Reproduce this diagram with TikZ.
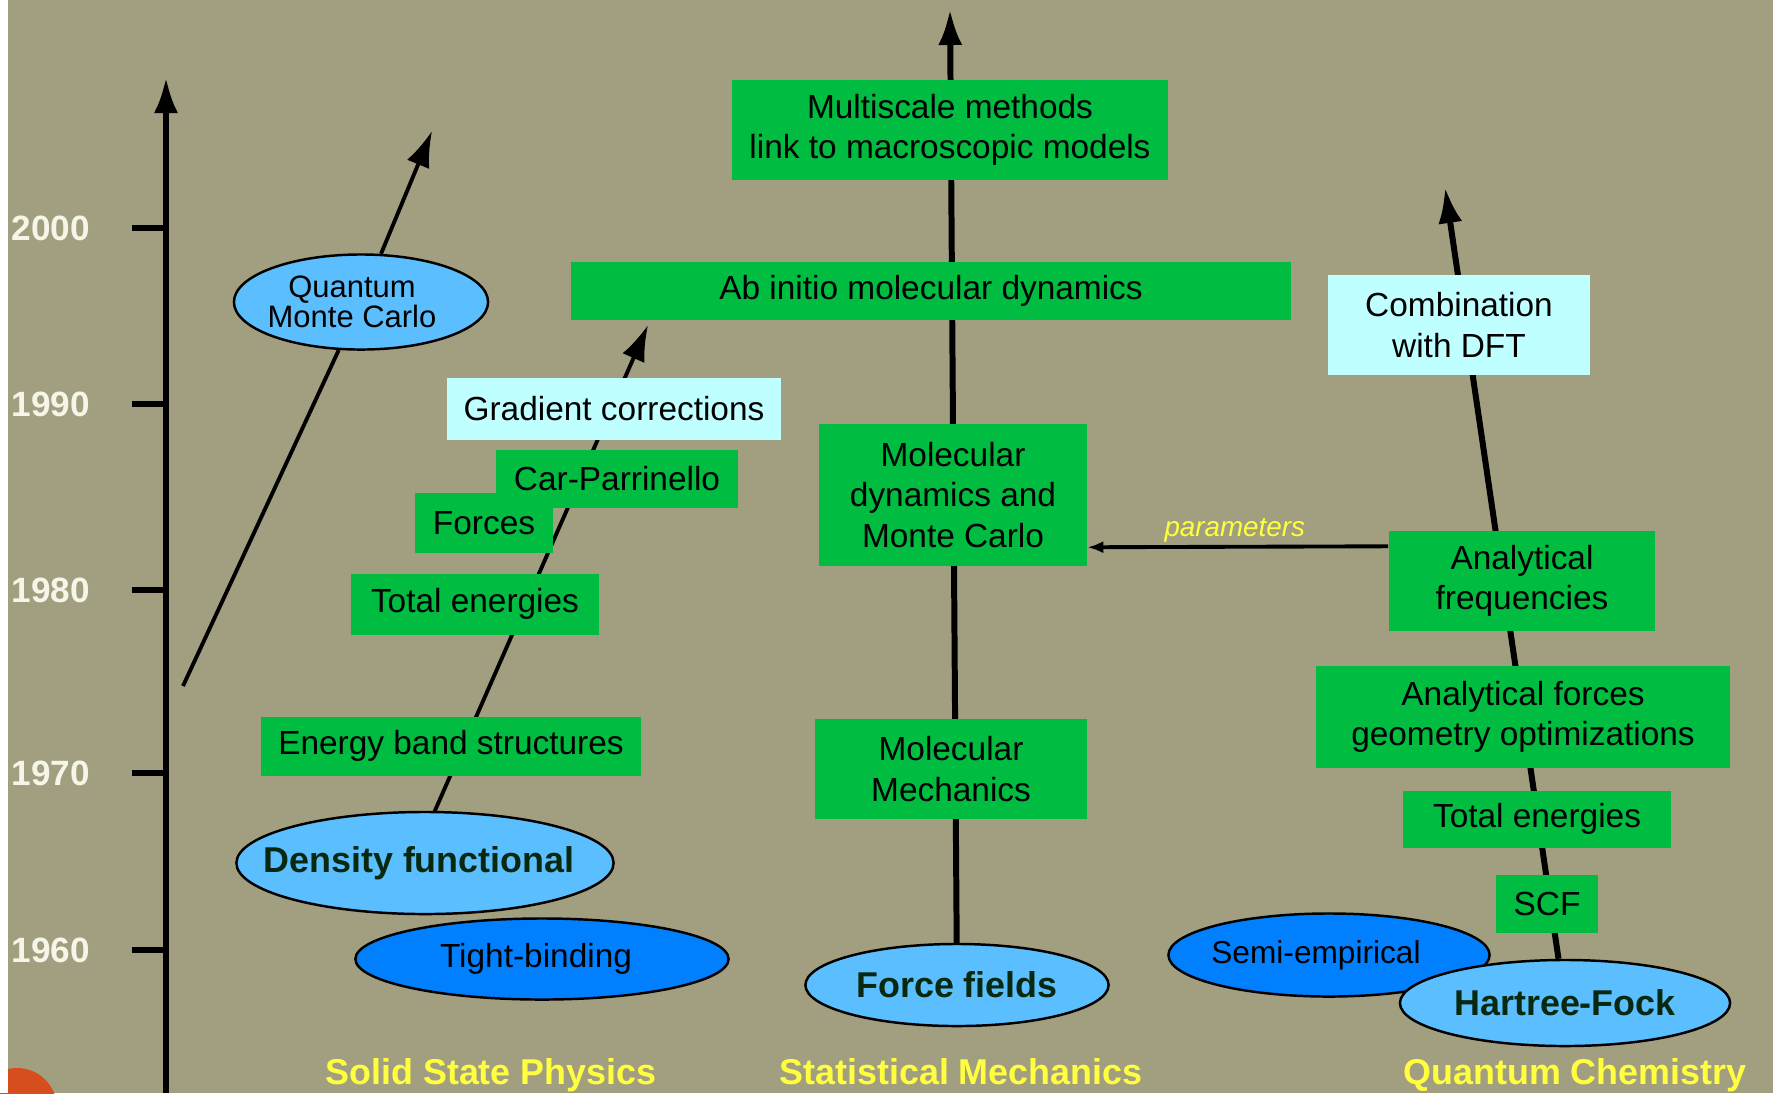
\documentclass[tikz,border=0pt]{standalone}
\usepackage{fontspec}
\setmainfont{Liberation Sans}
\usetikzlibrary{shapes.geometric,arrows.meta}
\definecolor{khaki}{RGB}{161,159,127}
\definecolor{boxgreen}{RGB}{0,188,64}
\definecolor{palecyan}{RGB}{192,255,255}
\definecolor{qblue}{RGB}{90,190,255}
\definecolor{deepblue}{RGB}{0,128,255}
\definecolor{fieldyellow}{RGB}{255,255,64}
\definecolor{yearwhite}{RGB}{245,245,232}
\definecolor{inkgreen}{RGB}{8,40,16}
\definecolor{dotorange}{RGB}{214,78,30}
\pgfdeclarelayer{backdrop}
\pgfdeclarelayer{lines}
\pgfsetlayers{backdrop,lines,main}
\tikzset{
  box/.style={fill=boxgreen, inner sep=0pt, align=center, font=\fontsize{9.5}{11.5}\selectfont},
  palebox/.style={box, fill=palecyan},
  blob/.style={ellipse, draw=black, line width=0.7pt, fill=qblue, inner sep=0pt},
  deepblob/.style={blob, fill=deepblue},
  blobtext/.style={align=center, inner sep=0pt, font=\fontsize{9.5}{9.5}\selectfont},
  boldtext/.style={blobtext, text=inkgreen, font=\fontsize{10.2}{10.2}\selectfont\bfseries},
  year/.style={inner sep=0pt, text=yearwhite, font=\fontsize{10}{10}\selectfont\bfseries},
  field/.style={inner sep=0pt, anchor=base, text=fieldyellow, font=\fontsize{10.2}{10.2}\selectfont\bfseries},
  thinline/.style={line width=1.1pt},
  thickline/.style={line width=1.7pt},
  tip/.style={-{Latex[length=0.36cm,width=0.24cm]}},
  paramline/.style={line width=1.1pt, -{Latex[length=0.16cm,width=0.12cm]}},
  paramtext/.style={inner sep=0pt, text=fieldyellow, font=\fontsize{7.9}{7.9}\selectfont\itshape},
}
\begin{document}
\begin{tikzpicture}[x=0.01cm, y=-0.01cm]
  \useasboundingbox (0,0) rectangle (1773,1093);%
  \begin{pgfonlayer}{backdrop}
    \fill[khaki] (0,0) rectangle (1773,1093);%
    \fill[dotorange] (17,1108) circle[radius=0.4cm];%
    \fill[white] (0,0) rectangle (8,1093);%
  \end{pgfonlayer}
  % time axis
  \coordinate (axisfoot) at (166,1093);%
  \coordinate (axistip) at (166,77);%
  \draw[thickline, tip] (axisfoot) -- (axistip);%
  \foreach \yr/\yy in {2000/228,1990/404,1980/590,1970/773,1960/950}{
    \draw[thickline] (132,\yy) -- (166,\yy);%
    \node[year] (y\yr) at (51,\yy) {\yr};%
  }
  % solid state physics
  \node[blob, minimum width=2.54cm, minimum height=0.95cm] (qmc) at (361,302) {};%
  \node[blobtext, font=\fontsize{8.8}{8.6}\selectfont] (qmctext) at ([xshift=-0.09cm]qmc.center) {Quantum\\Monte Carlo};%
  \node[box, minimum width=3.80cm, minimum height=0.59cm] (ebs) at (451,746) {Energy band structures};%
  \node[box, minimum width=2.47cm, minimum height=0.61cm] (tel) at (475,604) {Total energies};%
  \node[box, minimum width=2.41cm, minimum height=0.58cm] (cpar) at (617,479) {Car-Parrinello};%
  \node[box, minimum width=1.38cm, minimum height=0.60cm] (forces) at (484,523) {Forces};%
  \node[palebox, minimum width=3.34cm, minimum height=0.61cm] (grad) at (614,409) {Gradient corrections};%
  \node[blob, minimum width=3.77cm, minimum height=1.02cm] (df) at (425,863) {};%
  \node[boldtext] (dftext) at ([xshift=-0.06cm]df.center) {Density functional};%
  \node[deepblob, minimum width=3.73cm, minimum height=0.81cm] (tb) at (542,959) {};%
  \node[blobtext] (tbtext) at ([xshift=-0.06cm]tb.center) {Tight-binding};%
  \coordinate (qmcfoot) at (183,686);%
  \coordinate (qmctip) at (432,131);%
  \coordinate (dftip) at (648,325);%
  % statistical mechanics
  \node[blob, minimum width=3.03cm, minimum height=0.82cm] (ff) at (957,985) {};%
  \node[boldtext] (fftext) at (ff) {Force fields};%
  \node[box, minimum width=2.71cm, minimum height=0.99cm] (mm) at (951,769) {Molecular\\Mechanics};%
  \node[box, minimum width=2.67cm, minimum height=1.41cm] (mdmc) at (953,495) {Molecular\\dynamics and\\Monte Carlo};%
  \node[box, minimum width=7.19cm, minimum height=0.58cm] (abinit) at (931,291) {Ab initio molecular dynamics};%
  \node[box, minimum width=4.35cm, minimum height=0.99cm] (multi) at (950,130) {Multiscale methods\\link to macroscopic models};%
  \coordinate (smtip) at (950,9);%
  % quantum chemistry
  \node[palebox, minimum width=2.61cm, minimum height=0.99cm] (dft) at (1459,325) {Combination\\with DFT};%
  \node[box, minimum width=2.66cm, minimum height=1.00cm] (afreq) at (1522,581) {Analytical\\frequencies};%
  \node[box, minimum width=4.14cm, minimum height=1.01cm] (aforce) at (1523,717) {Analytical forces\\geometry optimizations};%
  \node[box, minimum width=2.67cm, minimum height=0.57cm] (ter) at (1537,819) {Total energies};%
  \node[box, minimum width=1.02cm, minimum height=0.58cm] (scf) at (1547,904) {SCF};%
  \node[deepblob, minimum width=3.21cm, minimum height=0.83cm] (semi) at (1329,955) {};%
  \node[blobtext, font=\fontsize{9}{9}\selectfont] (semitext) at ([xshift=-0.13cm]semi.center) {Semi-empirical};%
  \node[blob, minimum width=3.30cm, minimum height=0.86cm] (hf) at (1565,1003) {};%
  \node[boldtext] (hftext) at (hf) {Hartree-Fock};%
  \coordinate (qctip) at (1445,187);%
  \begin{pgfonlayer}{lines}
    \draw[thinline] (qmcfoot) -- (qmc);%
    \draw[thinline, tip] (qmc) -- (qmctip);%
    \draw[thinline, tip] ([xshift=-0.13cm]df.center) -- (dftip);%
    \draw[thickline, tip] (ff) -- (smtip);%
    \draw[thickline, tip] (hf) -- (qctip);%
  \end{pgfonlayer}
  \draw[paramline] ([yshift=-0.16cm]afreq.north west) -- node[paramtext, pos=0.51, yshift=0.16cm] (partext) {parameters} ([yshift=0.19cm]mdmc.south east);%
  % fields
  \node[field] (ssp) at (491,1084) {Solid State Physics};%
  \node[field] (stm) at (961,1084) {Statistical Mechanics};%
  \node[field] (qch) at (1575,1084) {Quantum Chemistry};%
\end{tikzpicture}
\end{document}
